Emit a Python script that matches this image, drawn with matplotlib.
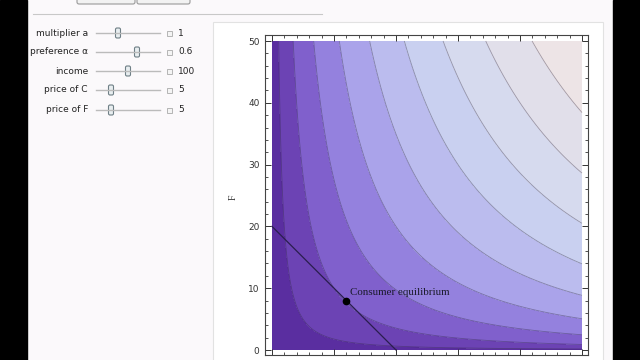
import matplotlib
matplotlib.use("Agg")
import matplotlib.pyplot as plt
from matplotlib.patches import Rectangle, FancyBboxPatch
import numpy as np

# slider settings shown in the control panel
slider_labels = ["multiplier a", "preference \u03b1", "income", "price of C", "price of F"]
slider_values = ["1", "0.6", "100", "5", "5"]
slider_thumbs = [118, 137, 128, 111, 111]   # thumb x position (px)

a = 1.0
alpha = 0.6
income = 100.0
price_c = 5.0
price_f = 5.0

levels = [0, 5, 10, 15, 20, 25, 30, 35, 40, 45, 60]
band_colors = ["#5a2ea0", "#6c43b4", "#8060cc", "#9481de", "#aaa3ea",
               "#bbbcee", "#c9d0f0", "#d6daee", "#e1dfea", "#ede4e6"]

fig = plt.figure(figsize=(6.4, 3.6), dpi=100)
fig.patch.set_facecolor("#fbf9fb")

# ---- window / control panel drawn in pixel coords
ui = fig.add_axes([0, 0, 1, 1], zorder=0)
ui.set_xlim(0, 640)
ui.set_ylim(360, 0)
ui.axis("off")
ui.add_patch(Rectangle((0, 0), 27, 360, color="black"))
ui.add_patch(Rectangle((613, 0), 27, 360, color="black"))
ui.add_patch(FancyBboxPatch((77, -6), 58, 10, boxstyle="round,pad=0,rounding_size=2",
                            fc="#f2f2f2", ec="#999999", lw=0.8))
ui.add_patch(FancyBboxPatch((137, -6), 53, 10, boxstyle="round,pad=0,rounding_size=2",
                            fc="#f2f2f2", ec="#999999", lw=0.8))
ui.plot([33, 322], [14, 14], color="#c8c8c8", lw=0.8)
ui.add_patch(Rectangle((213, 22), 390, 345, fc="#ffffff", ec="#e2e2e2", lw=0.8))

rows_y = [33, 52, 71, 90, 110]
for lab, val, tx, yy in zip(slider_labels, slider_values, slider_thumbs, rows_y):
    ui.text(88, yy, lab, ha="right", va="center", fontsize=6.5, color="#222222",
            family="DejaVu Sans")
    ui.plot([96, 160], [yy, yy], color="#bbbbbb", lw=1.0)
    ui.add_patch(FancyBboxPatch((tx - 2.5, yy - 5), 5, 10,
                                boxstyle="round,pad=0,rounding_size=1.5",
                                fc="#e8eef0", ec="#6f7f86", lw=0.8))
    ui.add_patch(Rectangle((167, yy - 2.5), 5, 5, fc="#f4f4f4", ec="#aaaaaa", lw=0.6))
    ui.text(178, yy, val, ha="left", va="center", fontsize=6.5, color="#222222")

# ---- contour plot
ax = fig.add_axes([265 / 640, 5 / 360, 323 / 640, 320 / 360], zorder=1)
px_x = 310 / 50
px_y = 309 / 50
ax.set_xlim(-7 / px_x, 50 + 6 / px_x)
ax.set_ylim(-5 / px_y, 50 + 6 / px_y)
ax.set_facecolor("white")

xs = np.linspace(0, 50, 401)
ys = np.linspace(0, 50, 401)
X, Y = np.meshgrid(xs, ys)
U = a * X ** alpha * Y ** (1 - alpha)
ax.contourf(X, Y, U, levels=levels, colors=band_colors)
ax.contour(X, Y, U, levels=levels[1:-1], colors="#2e2640", linewidths=0.6, alpha=0.4)

# budget line and equilibrium
bx = np.array([0, income / price_c])
by = (income - price_c * bx) / price_f
ax.plot(bx, by, color="#2a1e4e", lw=0.9)
c_star = alpha * income / price_c
f_star = (1 - alpha) * income / price_f
ax.plot([c_star], [f_star], "o", color="black", ms=4.5)
ax.text(c_star + 0.6, f_star + 0.6, "Consumer equilibrium", fontsize=7.9,
        family="Liberation Serif", color="#1a1a2a", ha="left", va="bottom")

ax.set_xticks(np.arange(0, 51, 10))
ax.set_xticks(np.arange(0, 51, 2), minor=True)
ax.set_yticks(np.arange(0, 51, 10))
ax.set_yticks(np.arange(0, 51, 2), minor=True)
ax.tick_params(which="both", direction="in", top=True, right=True, color="#333333",
               labelsize=6.5, labelcolor="#333333", pad=4)
ax.tick_params(which="major", length=4, width=0.7)
ax.tick_params(which="minor", length=2, width=0.6)
ax.tick_params(axis="x", labelbottom=False)
for s in ax.spines.values():
    s.set_color("#444444")
    s.set_linewidth(0.8)

fig.text(233 / 640, 1 - 197 / 360, "F", rotation=90, fontsize=7,
         family="Liberation Serif", ha="center", va="center", color="#333333")

fig.savefig("out.png", dpi=100, facecolor=fig.get_facecolor())
